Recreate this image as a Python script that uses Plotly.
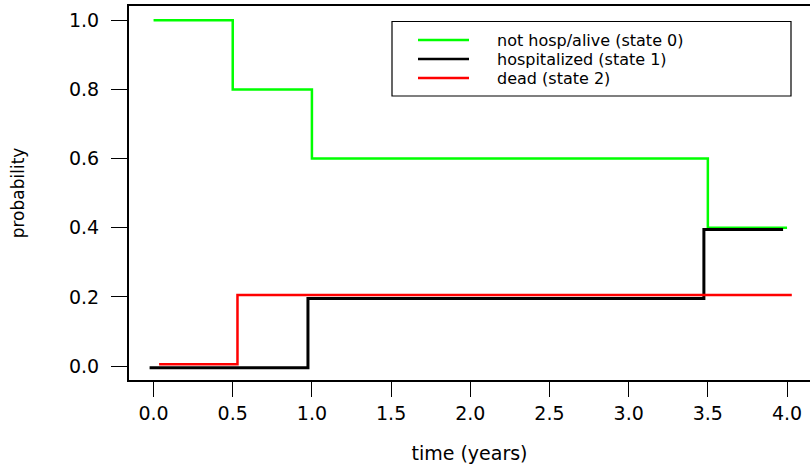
import plotly.graph_objects as go

# ---- data ----
state0_time = [0.0, 0.5, 1.0, 3.5, 4.0]
state0_prob = [1.0, 0.8, 0.6, 0.4, 0.4]

state1_time = [-0.025, 0.975, 3.475, 3.975]
state1_prob = [-0.005, 0.195, 0.395, 0.395]

state2_time = [0.035, 0.53, 4.03]
state2_prob = [0.005, 0.205, 0.205]

series_names = ["not hosp/alive (state 0)", "hospitalized (state 1)", "dead (state 2)"]
series_colors = ["#00FF00", "#000000", "#FF0000"]
series_widths = [2.5, 3, 2.5]

x_tickvals = [0.0, 0.5, 1.0, 1.5, 2.0, 2.5, 3.0, 3.5, 4.0]
x_ticktext = ["0.0", "0.5", "1.0", "1.5", "2.0", "2.5", "3.0", "3.5", "4.0"]
y_tickvals = [0.0, 0.2, 0.4, 0.6, 0.8, 1.0]
y_ticktext = ["0.0", "0.2", "0.4", "0.6", "0.8", "1.0"]

W, H = 810, 465
L, R, T, B = 129, 0, 6, 85
FONT = "DejaVu Sans"
FS = 19
LEG_FS = 16

fig = go.Figure()
for t, p, name, col, w in zip([state0_time, state1_time, state2_time],
                              [state0_prob, state1_prob, state2_prob],
                              series_names, series_colors, series_widths):
    fig.add_trace(go.Scatter(x=t, y=p, mode="lines", name=name,
                             line=dict(color=col, width=w, shape="hv"),
                             showlegend=False, hoverinfo="skip"))

# pixel -> paper helpers for the hand-drawn legend box
pw, ph = W - L - R, H - T - B
def px(x):
    return (x - L) / pw
def py(y):
    return (H - B - y) / ph

shapes = [dict(type="rect", xref="paper", yref="paper",
               x0=px(392), x1=px(791), y0=py(96), y1=py(21.5),
               line=dict(color="black", width=1.2), fillcolor="white", layer="above")]
annotations = []
row_y = [40, 59, 78]
for name, col, yy in zip(series_names, series_colors, row_y):
    shapes.append(dict(type="line", xref="paper", yref="paper",
                       x0=px(418), x1=px(469), y0=py(yy), y1=py(yy),
                       line=dict(color=col, width=2.5), layer="above"))
    annotations.append(dict(xref="paper", yref="paper", x=px(495), y=py(yy),
                            text=name, showarrow=False, xanchor="left", yanchor="middle",
                            font=dict(family=FONT, size=LEG_FS, color="black")))

fig.update_layout(
    width=W, height=H,
    margin=dict(l=L, r=R, t=T, b=B, pad=0),
    paper_bgcolor="white", plot_bgcolor="white",
    font=dict(family=FONT, size=FS, color="black"),
    shapes=shapes, annotations=annotations,
    showlegend=False,
)
fig.update_xaxes(
    range=[-0.155, 4.145], tickvals=x_tickvals, ticktext=x_ticktext,
    showgrid=False, zeroline=False,
    showline=True, linecolor="black", linewidth=1.5, mirror=True,
    ticks="outside", ticklen=15, tickwidth=1.2, tickcolor="black",
    tickfont=dict(family=FONT, size=FS),
    title=dict(text="time (years)", font=dict(family=FONT, size=FS), standoff=24),
)
fig.update_yaxes(
    range=[-0.0405, 1.0412], tickvals=y_tickvals, ticktext=y_ticktext,
    showgrid=False, zeroline=False,
    showline=True, linecolor="black", linewidth=2, mirror=False,
    ticks="outside", ticklen=16, tickwidth=1.2, tickcolor="black",
    ticklabelstandoff=8,
    tickfont=dict(family=FONT, size=FS),
    title=dict(text="probability", font=dict(family=FONT, size=17), standoff=40),
)

fig.write_html("out.html")
